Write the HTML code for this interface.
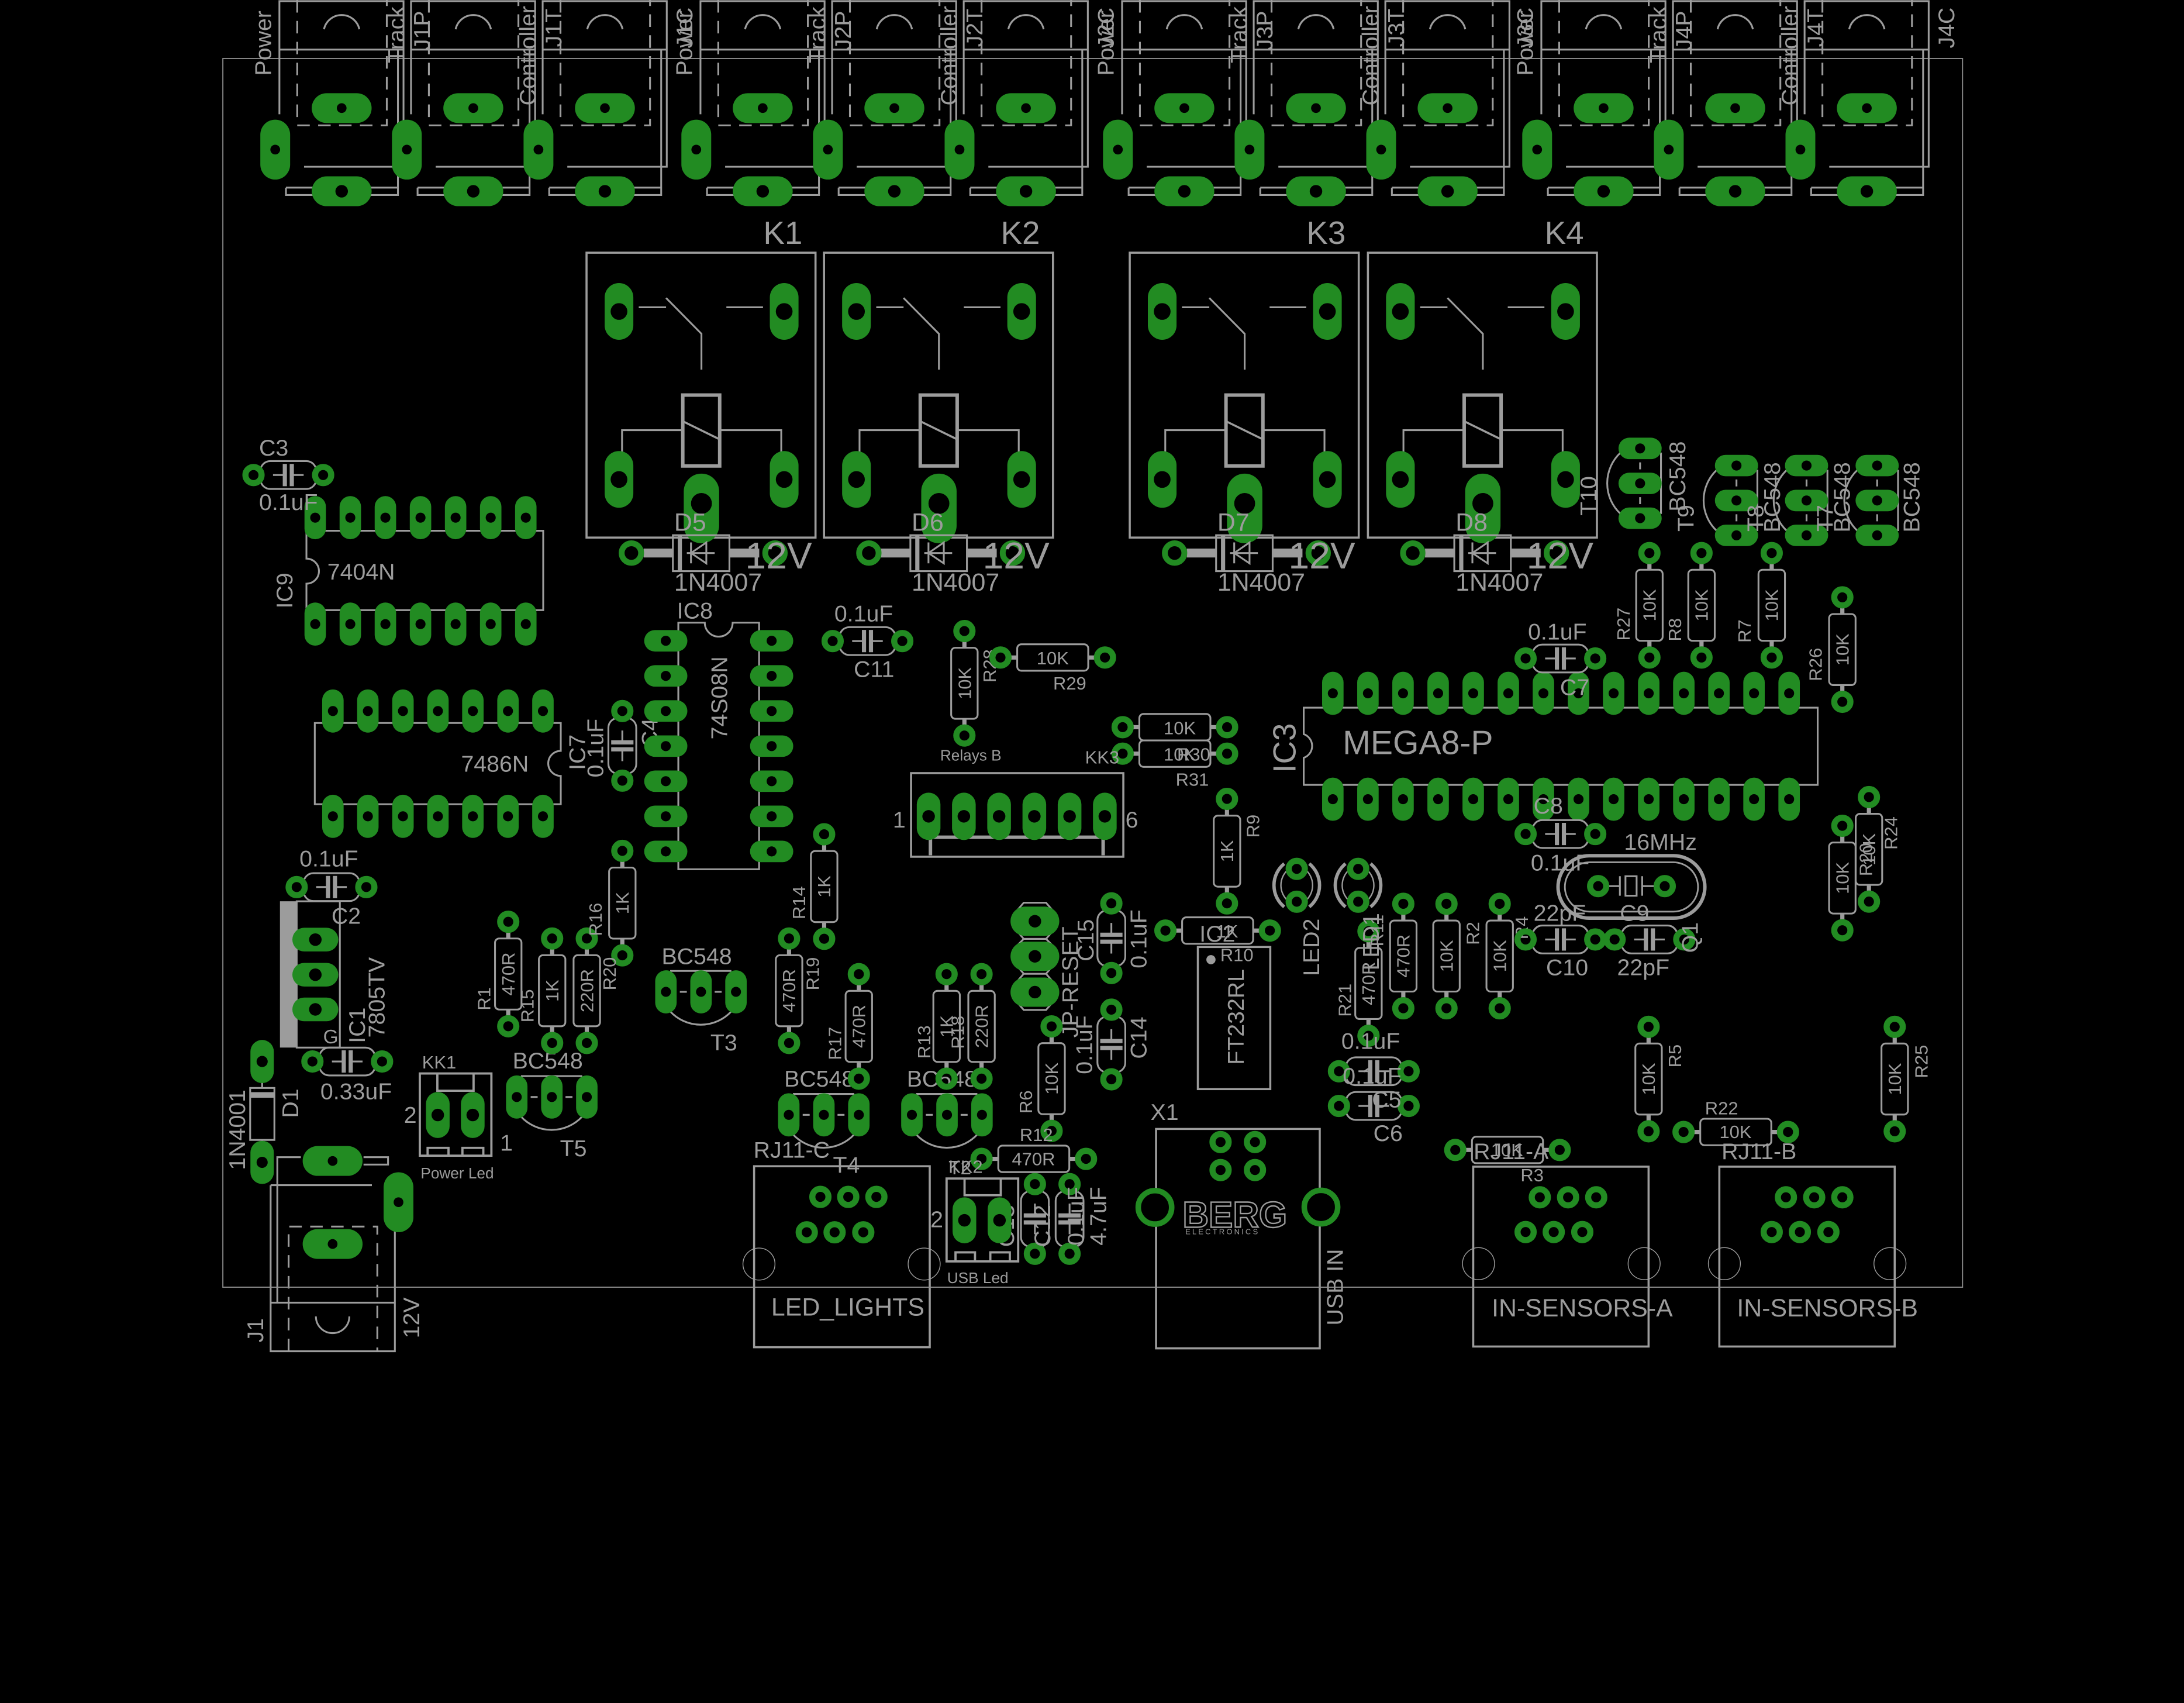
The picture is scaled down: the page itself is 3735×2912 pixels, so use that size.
<!DOCTYPE html>
<html><head><meta charset="utf-8"><style>
html,body{margin:0;padding:0;background:#000;}
svg{display:block;}
text{font-family:"Liberation Sans",sans-serif;fill:#9c9c9c;}
</style></head><body>
<svg width="3735" height="2912" viewBox="0 0 1568 1222.5" preserveAspectRatio="none" xmlns="http://www.w3.org/2000/svg" xmlns:xlink="http://www.w3.org/1999/xlink">
<rect x="0" y="0" width="1568" height="1223" fill="#000"/>
<defs>
<g id="pv"><rect x="-7.7" y="-15.5" width="15.4" height="31" rx="7.7" fill="#228b22"/><circle r="3.6" fill="#000"/></g>
<g id="ph"><rect x="-15.5" y="-7.7" width="31" height="15.4" rx="7.7" fill="#228b22"/><circle r="3.6" fill="#000"/></g>
<g id="ring"><circle r="5.8" fill="none" stroke="#228b22" stroke-width="4.4"/></g>
<g id="rv"><line x1="0" y1="5" x2="0" y2="70" stroke="#9c9c9c" stroke-width="3"/><rect x="-9.5" y="12" width="19" height="51" rx="3" fill="#000" stroke="#9c9c9c" stroke-width="1.3"/><use href="#ring"/><use href="#ring" y="75"/></g>
<g id="rh"><line x1="5" y1="0" x2="70" y2="0" stroke="#9c9c9c" stroke-width="3"/><rect x="12" y="-9.5" width="51" height="19" rx="3" fill="#000" stroke="#9c9c9c" stroke-width="1.3"/><use href="#ring"/><use href="#ring" x="75"/></g>
<g id="ch"><rect x="5" y="-10" width="40" height="20" rx="7" fill="none" stroke="#9c9c9c" stroke-width="1.3"/><path d="M14,0H22.5M27.5,0H36" stroke="#9c9c9c" stroke-width="1.3"/><path d="M22.5,-8V8M27.5,-8V8" stroke="#9c9c9c" stroke-width="3"/><use href="#ring"/><use href="#ring" x="50"/></g>
<g id="cv"><rect x="-10" y="5" width="20" height="40" rx="7" fill="none" stroke="#9c9c9c" stroke-width="1.3"/><path d="M0,14V22.5M0,27.5V36" stroke="#9c9c9c" stroke-width="1.3"/><path d="M-8,22.5H8M-8,27.5H8" stroke="#9c9c9c" stroke-width="3"/><use href="#ring"/><use href="#ring" y="50"/></g>
<g id="trh"><path d="M3,14 A30 30 0 0 0 47,14 M3,-15 H47" fill="none" stroke="#9c9c9c" stroke-width="1.3"/><use href="#pv"/><use href="#pv" x="25.2"/><use href="#pv" x="50.3"/><path d="M10,0H15M35,0H40" stroke="#9c9c9c" stroke-width="1.3"/></g>
<g id="trv"><path d="M-14,3 A30 30 0 0 0 -14,47 M15,3 V47" fill="none" stroke="#9c9c9c" stroke-width="1.3"/><use href="#ph"/><use href="#ph" y="25.1"/><use href="#ph" y="50.1"/><path d="M0,10V15M0,35V40" stroke="#9c9c9c" stroke-width="1.3"/></g>
<g id="conn" fill="none" stroke="#9c9c9c" stroke-width="1.3">
<path d="M-27,119.7H44.4V0.8H-44.7V82"/><path d="M-44.7,35.6H44.4"/>
<path d="M-31.9,0V90H32.4V0" stroke-dasharray="9 6"/>
<path d="M-40,134.7V140H40.4V35.6M-40,134.7H-20M20,134.7H40"/>
<path d="M-12.7,21 A13 13 0 0 1 12.7,21"/>
<rect x="-21.5" y="66.9" width="43" height="21.4" rx="10.7" fill="#228b22" stroke="none"/><circle cx="0" cy="77.6" r="3.5" fill="#000" stroke="none"/>
<rect x="-58.4" y="85.9" width="21.4" height="43" rx="10.7" fill="#228b22" stroke="none"/><circle cx="-47.7" cy="107.4" r="3.5" fill="#000" stroke="none"/>
<rect x="-21.5" y="126.6" width="43" height="21.4" rx="10.7" fill="#228b22" stroke="none"/><circle cx="0" cy="137.3" r="4.5" fill="#000" stroke="none"/>
</g>
<g id="relay">
<rect x="0" y="0" width="164.4" height="204.5" fill="none" stroke="#9c9c9c" stroke-width="1.5"/>
<path d="M37.5,39.2H57.1M57.1,32.5L82.5,58.2V83.9M100.4,39.2H126.7M69.1,127.4H25.5V145M95.6,127.4H139.8V145" fill="none" stroke="#9c9c9c" stroke-width="1.3"/>
<rect x="69.1" y="102.2" width="26.5" height="50.9" fill="none" stroke="#9c9c9c" stroke-width="2.5"/>
<path d="M69.1,121L95.6,134" stroke="#9c9c9c" stroke-width="1.5"/>
<rect x="13" y="21.8" width="20.6" height="40.7" rx="10.3" fill="#228b22"/><circle cx="23.3" cy="42.2" r="6" fill="#000"/>
<rect x="131.6" y="21.8" width="20.6" height="40.7" rx="10.3" fill="#228b22"/><circle cx="141.9" cy="42.2" r="6" fill="#000"/>
<rect x="13" y="142.4" width="20.6" height="40.7" rx="10.3" fill="#228b22"/><circle cx="23.3" cy="162.8" r="6" fill="#000"/>
<rect x="131.6" y="142.4" width="20.6" height="40.7" rx="10.3" fill="#228b22"/><circle cx="141.9" cy="162.8" r="6" fill="#000"/>
<rect x="69.8" y="158.6" width="25.4" height="50" rx="12.7" fill="#228b22"/><circle cx="82.5" cy="180" r="7.5" fill="#000"/>
<path d="M41,215.6H62M102.6,215.6H124" stroke="#9c9c9c" stroke-width="6.4"/>
<rect x="62" y="202.8" width="40.6" height="25.8" fill="none" stroke="#9c9c9c" stroke-width="1.3"/>
<path d="M67,202.8V228.6" stroke="#9c9c9c" stroke-width="3"/>
<path d="M72,215.6H92M75,208V223M75,215.6L86,208V223Z" fill="none" stroke="#9c9c9c" stroke-width="1.3"/>
<circle cx="32.2" cy="215.6" r="7" fill="none" stroke="#228b22" stroke-width="4.2"/>
<circle cx="135.3" cy="215.6" r="7" fill="none" stroke="#228b22" stroke-width="4.2"/>
</g>
</defs>

<!-- board outline -->
<rect x="160" y="42" width="1249" height="882" fill="none" stroke="#8a8a8a" stroke-width="0.8"/>

<!-- top connectors -->
<use href="#conn" x="245.3"/><use href="#conn" x="339.8"/><use href="#conn" x="434.3"/>
<use href="#conn" x="547.6"/><use href="#conn" x="642.1"/><use href="#conn" x="736.6"/>
<use href="#conn" x="850.3"/><use href="#conn" x="944.8"/><use href="#conn" x="1039.3"/>
<use href="#conn" x="1151.3"/><use href="#conn" x="1245.8"/><use href="#conn" x="1340.3"/>
<g font-size="16.5" text-anchor="middle">
<text transform="translate(194.5,31) rotate(-90)">Power</text><text transform="translate(290,25) rotate(-90)">Track</text><text transform="translate(308.5,22) rotate(-90)">J1P</text><text transform="translate(384.5,40) rotate(-90)">Controller</text><text transform="translate(403,20) rotate(-90)">J1T</text>
<text transform="translate(497,20) rotate(-90)">J1C</text>
<text transform="translate(496.8,31) rotate(-90)">Power</text><text transform="translate(592.3,25) rotate(-90)">Track</text><text transform="translate(610.8,22) rotate(-90)">J2P</text><text transform="translate(686.8,40) rotate(-90)">Controller</text><text transform="translate(705.3,20) rotate(-90)">J2T</text>
<text transform="translate(799.5,20) rotate(-90)">J2C</text>
<text transform="translate(799.5,31) rotate(-90)">Power</text><text transform="translate(895,25) rotate(-90)">Track</text><text transform="translate(913.5,22) rotate(-90)">J3P</text><text transform="translate(989.5,40) rotate(-90)">Controller</text><text transform="translate(1008,20) rotate(-90)">J3T</text>
<text transform="translate(1100.5,20) rotate(-90)">J3C</text>
<text transform="translate(1100.5,31) rotate(-90)">Power</text><text transform="translate(1196,25) rotate(-90)">Track</text><text transform="translate(1214.5,22) rotate(-90)">J4P</text><text transform="translate(1290.5,40) rotate(-90)">Controller</text><text transform="translate(1309,20) rotate(-90)">J4T</text>
<text transform="translate(1403,20) rotate(-90)">J4C</text>
</g>

<!-- relays -->
<use href="#relay" x="421.1" y="181.4"/><use href="#relay" x="591.6" y="181.4"/><use href="#relay" x="811.1" y="181.4"/><use href="#relay" x="982.1" y="181.4"/>
<g font-size="23"><text x="548" y="175">K1</text><text x="718.5" y="175">K2</text><text x="938" y="175">K3</text><text x="1109" y="175">K4</text></g>
<g font-size="18"><text x="484" y="381">D5</text><text x="654.5" y="381">D6</text><text x="874" y="381">D7</text><text x="1045" y="381">D8</text>
<text x="484" y="424">1N4007</text><text x="654.5" y="424">1N4007</text><text x="874" y="424">1N4007</text><text x="1045" y="424">1N4007</text></g>
<g font-size="27"><text x="535" y="408">12V</text><text x="705.5" y="408">12V</text><text x="925" y="408">12V</text><text x="1096" y="408">12V</text></g>

<!-- IC9 7404N -->
<path d="M220,381H390V438H220V419A9 9 0 0 0 220,401Z" fill="none" stroke="#9c9c9c" stroke-width="1.3"/>
<use href="#pv" x="226.3" y="371.6"/><use href="#pv" x="251.5" y="371.6"/><use href="#pv" x="276.7" y="371.6"/><use href="#pv" x="301.9" y="371.6"/><use href="#pv" x="327.1" y="371.6"/><use href="#pv" x="352.3" y="371.6"/><use href="#pv" x="377.5" y="371.6"/>
<use href="#pv" x="226.3" y="448"/><use href="#pv" x="251.5" y="448"/><use href="#pv" x="276.7" y="448"/><use href="#pv" x="301.9" y="448"/><use href="#pv" x="327.1" y="448"/><use href="#pv" x="352.3" y="448"/><use href="#pv" x="377.5" y="448"/>
<text x="235" y="416" font-size="16.5">7404N</text>
<text transform="translate(210,424) rotate(-90)" font-size="16.5" text-anchor="middle">IC9</text>

<!-- C3 -->
<use href="#ch" x="182" y="341"/>
<text x="186" y="327" font-size="16.5">C3</text><text x="186" y="366" font-size="16.5">0.1uF</text>

<!-- IC7 7486N -->
<path d="M226,519H402.6V539A9 9 0 0 0 402.6,557V577.3H226Z" fill="none" stroke="#9c9c9c" stroke-width="1.3"/>
<use href="#pv" x="239" y="510.4"/><use href="#pv" x="264.1" y="510.4"/><use href="#pv" x="289.3" y="510.4"/><use href="#pv" x="314.4" y="510.4"/><use href="#pv" x="339.5" y="510.4"/><use href="#pv" x="364.7" y="510.4"/><use href="#pv" x="389.8" y="510.4"/>
<use href="#pv" x="239" y="586"/><use href="#pv" x="264.1" y="586"/><use href="#pv" x="289.3" y="586"/><use href="#pv" x="314.4" y="586"/><use href="#pv" x="339.5" y="586"/><use href="#pv" x="364.7" y="586"/><use href="#pv" x="389.8" y="586"/>
<text x="331" y="554" font-size="16.5">7486N</text>
<text transform="translate(420,540) rotate(-90)" font-size="16.5" text-anchor="middle">IC7</text>
<text transform="translate(433,537) rotate(-90)" font-size="16.5" text-anchor="middle">0.1uF</text>
<use href="#cv" x="446.8" y="510.4"/>
<text transform="translate(472,526) rotate(-90)" font-size="16.5" text-anchor="middle">C4</text>

<!-- IC8 74S08N -->
<path d="M487,447H506A10 10 0 0 0 526,447H545V624H487Z" fill="none" stroke="#9c9c9c" stroke-width="1.3"/>
<use href="#ph" x="478" y="460"/><use href="#ph" x="478" y="485.2"/><use href="#ph" x="478" y="510.4"/><use href="#ph" x="478" y="535.6"/><use href="#ph" x="478" y="560.8"/><use href="#ph" x="478" y="586"/><use href="#ph" x="478" y="611.2"/>
<use href="#ph" x="554" y="460"/><use href="#ph" x="554" y="485.2"/><use href="#ph" x="554" y="510.4"/><use href="#ph" x="554" y="535.6"/><use href="#ph" x="554" y="560.8"/><use href="#ph" x="554" y="586"/><use href="#ph" x="554" y="611.2"/>
<text transform="translate(522,501) rotate(-90)" font-size="16.5" text-anchor="middle">74S08N</text>
<text x="486" y="444" font-size="16.5">IC8</text>

<!-- C11, R28, R29 -->
<use href="#ch" x="597.8" y="460.2"/>
<text x="599" y="446" font-size="16.5">0.1uF</text><text x="613" y="486" font-size="16.5">C11</text>
<use href="#rv" x="692.4" y="453"/>
<text transform="translate(697,490.5) rotate(-90)" font-size="13" text-anchor="middle">10K</text>
<text transform="translate(715,478) rotate(-90)" font-size="13" text-anchor="middle">R28</text>
<use href="#rh" x="718.3" y="472"/>
<text x="755.8" y="477" font-size="13" text-anchor="middle">10K</text>
<text x="768" y="495" font-size="13" text-anchor="middle">R29</text>

<!-- R30 R31 -->
<use href="#rh" x="806" y="522"/><use href="#rh" x="806" y="541"/>
<text x="847" y="527" font-size="13" text-anchor="middle">10K</text>
<text x="847" y="546" font-size="13" text-anchor="middle">10K</text>
<text x="857" y="546" font-size="13" text-anchor="middle">R30</text>
<text x="856" y="564" font-size="13" text-anchor="middle">R31</text>

<!-- KK3 -->
<rect x="654.1" y="555" width="152.4" height="60" fill="none" stroke="#9c9c9c" stroke-width="1.5"/>
<path d="M668,614V601H792V614" fill="none" stroke="#9c9c9c" stroke-width="2.5"/>
<g>
<rect x="658.2" y="569" width="17" height="34" rx="8.5" fill="#228b22"/><rect x="683.5" y="569" width="17" height="34" rx="8.5" fill="#228b22"/><rect x="708.8" y="569" width="17" height="34" rx="8.5" fill="#228b22"/><rect x="734.1" y="569" width="17" height="34" rx="8.5" fill="#228b22"/><rect x="759.4" y="569" width="17" height="34" rx="8.5" fill="#228b22"/><rect x="784.7" y="569" width="17" height="34" rx="8.5" fill="#228b22"/>
<circle cx="666.7" cy="586" r="4.5"/><circle cx="692" cy="586" r="4.5"/><circle cx="717.3" cy="586" r="4.5"/><circle cx="742.6" cy="586" r="4.5"/><circle cx="767.9" cy="586" r="4.5"/><circle cx="793.2" cy="586" r="4.5"/>
</g>
<text x="641" y="594" font-size="16.5">1</text><text x="808" y="594" font-size="16.5">6</text>
<text x="675" y="546" font-size="11">Relays B</text><text x="779" y="548" font-size="13">KK3</text>

<!-- C2, IC1 7805 -->
<use href="#ch" x="213" y="636.8"/>
<text x="215" y="622" font-size="16.5">0.1uF</text><text x="238" y="663" font-size="16.5">C2</text>
<rect x="201" y="647" width="12" height="105" fill="#9c9c9c"/>
<rect x="213" y="647" width="31" height="105" fill="none" stroke="#9c9c9c" stroke-width="1.3"/>
<rect x="209.9" y="666" width="33" height="17" rx="8.5" fill="#228b22"/><circle cx="226.4" cy="674.5" r="4.5"/>
<rect x="209.9" y="691.2" width="33" height="17" rx="8.5" fill="#228b22"/><circle cx="226.4" cy="699.7" r="4.5"/>
<rect x="209.9" y="716.1" width="33" height="17" rx="8.5" fill="#228b22"/><circle cx="226.4" cy="724.6" r="4.5"/>
<text transform="translate(276,716) rotate(-90)" font-size="16.5" text-anchor="middle">7805TV</text>
<text transform="translate(262,736) rotate(-90)" font-size="16.5" text-anchor="middle">IC1</text>
<text x="232" y="749" font-size="14">G</text>
<use href="#ch" x="224.3" y="762"/>
<text x="230" y="789" font-size="16.5">0.33uF</text>

<!-- D1 -->
<line x1="188.2" y1="762" x2="188.2" y2="834" stroke="#9c9c9c" stroke-width="1.3"/>
<rect x="179.6" y="781" width="17.4" height="37.3" fill="#000" stroke="#9c9c9c" stroke-width="1.3"/>
<rect x="179.6" y="784" width="17.4" height="4" fill="#9c9c9c"/>
<rect x="179.8" y="746.5" width="16.8" height="31" rx="8.4" fill="#228b22"/><circle cx="188.2" cy="762" r="4"/>
<rect x="179.8" y="818.9" width="16.8" height="31" rx="8.4" fill="#228b22"/><circle cx="188.2" cy="834.4" r="4"/>
<text transform="translate(176,811) rotate(-90)" font-size="16.5" text-anchor="middle">1N4001</text>
<text transform="translate(214,792) rotate(-90)" font-size="16.5" text-anchor="middle">D1</text>

<!-- J1 power jack -->
<g fill="none" stroke="#9c9c9c" stroke-width="1.3">
<path d="M194.3,850.8H267M194.3,850.8V970H283.5V879"/>
<path d="M194.3,935.1H283.5"/>
<path d="M207.2,970V880.5H270.9V970" stroke-dasharray="9 6"/>
<path d="M199.1,935.1V830.7H216M261,830.7H278.6V836H261"/>
<path d="M226.8,945 A12 12 0 0 0 250.8,945"/>
</g>
<rect x="217.3" y="822.7" width="43" height="21.4" rx="10.7" fill="#228b22"/><circle cx="238.8" cy="833.4" r="3.5"/>
<rect x="275.4" y="841.5" width="21.4" height="43" rx="10.7" fill="#228b22"/><circle cx="286.1" cy="863" r="3.5"/>
<rect x="217.3" y="882.3" width="43" height="21.4" rx="10.7" fill="#228b22"/><circle cx="238.8" cy="893" r="3.5"/>
<text transform="translate(189,955) rotate(-90)" font-size="16.5" text-anchor="middle">J1</text>
<text transform="translate(301,946) rotate(-90)" font-size="16.5" text-anchor="middle">12V</text>

<!-- KK1 -->
<rect x="301.4" y="770.6" width="51.4" height="59" fill="none" stroke="#9c9c9c" stroke-width="1.6"/>
<path d="M314,770.6V783H340V770.6M307,829.6V824H322V829.6M332,829.6V824H347V829.6" fill="none" stroke="#9c9c9c" stroke-width="1.6"/>
<rect x="305.8" y="783.9" width="17" height="33" rx="8.5" fill="#228b22"/><circle cx="314.3" cy="800.4" r="4.5"/>
<rect x="330.9" y="783.9" width="17" height="33" rx="8.5" fill="#228b22"/><circle cx="339.4" cy="800.4" r="4.5"/>
<text x="303" y="767" font-size="13">KK1</text><text x="290" y="806" font-size="16.5">2</text><text x="359" y="826" font-size="16.5">1</text>
<text x="302" y="846" font-size="11">Power Led</text>

<!-- transistors -->
<use href="#trh" x="371" y="787.5"/><text x="368" y="767" font-size="16.5">BC548</text><text x="402" y="830" font-size="16.5">T5</text>
<use href="#trh" x="478.1" y="712"/><text x="475" y="692" font-size="16.5">BC548</text><text x="510" y="754" font-size="16.5">T3</text>
<use href="#trh" x="566.3" y="800.3"/><text x="563" y="780" font-size="16.5">BC548</text><text x="598" y="842" font-size="16.5">T4</text>
<use href="#trh" x="654.7" y="800.3"/><text x="651" y="780" font-size="16.5">BC548</text><text x="681" y="843" font-size="14">T2</text>

<!-- vertical resistors -->
<use href="#rv" x="364.9" y="661.7"/><use href="#rv" x="396.4" y="673.7"/><use href="#rv" x="421.3" y="673.7"/><use href="#rv" x="446.8" y="610.8"/>
<use href="#rv" x="566.5" y="673.7"/><use href="#rv" x="591.7" y="598.9"/><use href="#rv" x="616.6" y="699.3"/><use href="#rv" x="679.6" y="699.3"/><use href="#rv" x="704.7" y="699.3"/>
<use href="#rv" x="755" y="736.8"/><use href="#rv" x="880.9" y="573.5"/>
<use href="#rv" x="1184.2" y="397"/><use href="#rv" x="1221.6" y="397"/><use href="#rv" x="1272" y="397"/><use href="#rv" x="1322.7" y="428.8"/>
<use href="#rv" x="1341.8" y="572.2"/><use href="#rv" x="1322.7" y="592.8"/>
<use href="#rv" x="982.5" y="668.5"/><use href="#rv" x="1007.5" y="648.8"/><use href="#rv" x="1038.5" y="648.8"/><use href="#rv" x="1076.7" y="648.8"/>
<use href="#rv" x="1183.6" y="737.1"/><use href="#rv" x="1360.3" y="737.1"/>
<g font-size="13" text-anchor="middle">
<text transform="translate(369.4,699.2) rotate(-90)">470R</text><text transform="translate(352,717) rotate(-90)">R1</text>
<text transform="translate(400.9,711.2) rotate(-90)">1K</text><text transform="translate(383,722) rotate(-90)">R15</text>
<text transform="translate(425.8,711.2) rotate(-90)">220R</text><text transform="translate(442,699) rotate(-90)">R20</text>
<text transform="translate(451.3,648.3) rotate(-90)">1K</text><text transform="translate(432,660) rotate(-90)">R16</text>
<text transform="translate(571,711.2) rotate(-90)">470R</text><text transform="translate(588,699) rotate(-90)">R19</text>
<text transform="translate(596.2,636.4) rotate(-90)">1K</text><text transform="translate(578,648) rotate(-90)">R14</text>
<text transform="translate(621.1,736.8) rotate(-90)">470R</text><text transform="translate(604,749) rotate(-90)">R17</text>
<text transform="translate(684.1,736.8) rotate(-90)">1K</text><text transform="translate(668,748) rotate(-90)">R13</text>
<text transform="translate(692,741) rotate(-90)">R18</text>
<text transform="translate(709.2,736.8) rotate(-90)">220R</text>
<text transform="translate(759.5,774.3) rotate(-90)">10K</text><text transform="translate(741,791) rotate(-90)">R6</text>
<text transform="translate(885.4,611) rotate(-90)">1K</text><text transform="translate(904,593) rotate(-90)">R9</text>
<text transform="translate(1188.7,434.5) rotate(-90)">10K</text><text transform="translate(1170,448) rotate(-90)">R27</text>
<text transform="translate(1226.1,434.5) rotate(-90)">10K</text><text transform="translate(1207,452) rotate(-90)">R8</text>
<text transform="translate(1276.5,434.5) rotate(-90)">10K</text><text transform="translate(1257,453) rotate(-90)">R7</text>
<text transform="translate(1327.2,466.3) rotate(-90)">10K</text><text transform="translate(1308,477) rotate(-90)">R26</text>
<text transform="translate(1346.3,609.7) rotate(-90)">10K</text><text transform="translate(1362,598) rotate(-90)">R24</text>
<text transform="translate(1327.2,630.3) rotate(-90)">10K</text><text transform="translate(1344,617) rotate(-90)">R20</text>
<text transform="translate(987,706) rotate(-90)">470R</text><text transform="translate(970,718) rotate(-90)">R21</text>
<text transform="translate(1012,686.3) rotate(-90)">470R</text><text transform="translate(993,668) rotate(-90)">R11</text>
<text transform="translate(1043,686.3) rotate(-90)">10K</text><text transform="translate(1062,670) rotate(-90)">R2</text>
<text transform="translate(1081.2,686.3) rotate(-90)">10K</text><text transform="translate(1097,666) rotate(-90)">R4</text>
<text transform="translate(1188.1,774.6) rotate(-90)">10K</text><text transform="translate(1207,758) rotate(-90)">R5</text>
<text transform="translate(1364.8,774.6) rotate(-90)">10K</text><text transform="translate(1384,762) rotate(-90)">R25</text>
</g>

<!-- horizontal resistors -->
<use href="#rh" x="704.7" y="831.9"/><text x="742" y="836.5" font-size="13" text-anchor="middle">470R</text><text x="744" y="819" font-size="13" text-anchor="middle">R12</text>
<use href="#rh" x="1208.7" y="812.6"/><text x="1246" y="817" font-size="13" text-anchor="middle">10K</text><text x="1236" y="800" font-size="13" text-anchor="middle">R22</text>
<use href="#rh" x="1044.8" y="825.5"/><text x="1082" y="830" font-size="13" text-anchor="middle">10K</text><text x="1100" y="848" font-size="13" text-anchor="middle">R3</text>

<!-- JP-RESET -->
<g fill="none" stroke="#9c9c9c" stroke-width="1.3">
<path d="M735,648H751L757,655V667L751,674H735L729,667V655Z"/>
<path d="M735,674H751L757,680V692L751,699H735L729,692V680Z"/>
<path d="M735,699H751L757,706V718L751,725H735L729,718V706Z"/>
</g>
<rect x="725.5" y="650.8" width="35" height="21" rx="10.5" fill="#228b22"/><circle cx="743" cy="661.3" r="4.5"/>
<rect x="725.5" y="676" width="35" height="21" rx="10.5" fill="#228b22"/><circle cx="743" cy="686.5" r="4.5"/>
<rect x="725.5" y="701.7" width="35" height="21" rx="10.5" fill="#228b22"/><circle cx="743" cy="712.2" r="4.5"/>
<text transform="translate(774,705) rotate(-90)" font-size="16.5" text-anchor="middle">JP-RESET</text>

<!-- C15 C14 C13 C12 -->
<use href="#cv" x="797.9" y="648.5"/><use href="#cv" x="797.9" y="724.8"/>
<text transform="translate(785,675) rotate(-90)" font-size="16.5" text-anchor="middle">C15</text>
<text transform="translate(823,674) rotate(-90)" font-size="16.5" text-anchor="middle">0.1uF</text>
<text transform="translate(823,745) rotate(-90)" font-size="16.5" text-anchor="middle">C14</text>
<text transform="translate(784,750) rotate(-90)" font-size="16.5" text-anchor="middle">0.1uF</text>
<use href="#cv" x="743" y="850"/><use href="#cv" x="767.9" y="850"/>
<text transform="translate(728,880) rotate(-90)" font-size="16.5" text-anchor="middle">C13</text>
<text transform="translate(754,880) rotate(-90)" font-size="16.5" text-anchor="middle">C12</text>
<text transform="translate(778,873) rotate(-90)" font-size="16.5" text-anchor="middle">0.1uF</text>
<text transform="translate(794,873) rotate(-90)" font-size="16.5" text-anchor="middle">4.7uF</text>

<!-- KK2 USB Led -->
<rect x="679.6" y="846" width="51.4" height="59.5" fill="none" stroke="#9c9c9c" stroke-width="1.6"/>
<path d="M692.5,846V858H718.5V846M686,905.5V899H700V905.5M711,905.5V899H725V905.5" fill="none" stroke="#9c9c9c" stroke-width="1.6"/>
<rect x="683.9" y="859.5" width="17" height="33" rx="8.5" fill="#228b22"/><circle cx="692.4" cy="876" r="4.5"/>
<rect x="709.1" y="859.5" width="17" height="33" rx="8.5" fill="#228b22"/><circle cx="717.6" cy="876" r="4.5"/>
<text x="681" y="842" font-size="13">KK2</text><text x="668" y="881" font-size="16.5">2</text>
<text x="680" y="921" font-size="11">USB Led</text>

<!-- RJ11-C LED_LIGHTS -->
<rect x="541.4" y="837.2" width="126.1" height="129.9" fill="none" stroke="#9c9c9c" stroke-width="1.5"/>
<use href="#ring" x="589" y="859.2"/><use href="#ring" x="609" y="859.2"/><use href="#ring" x="629.2" y="859.2"/>
<use href="#ring" x="579.2" y="884.6"/><use href="#ring" x="599.2" y="884.6"/><use href="#ring" x="619.8" y="884.6"/>
<g fill="none" stroke="#9c9c9c" stroke-width="0.6"><circle cx="544.9" cy="907.4" r="11.5"/><circle cx="663.5" cy="907.4" r="11.5"/></g>
<text x="553.7" y="944.3" font-size="18">LED_LIGHTS</text>
<text x="541" y="831" font-size="16.5">RJ11-C</text>

<!-- X1 USB -->
<path d="M830,855V810.4H947.5V853M947.5,880V967.9H830V879" fill="none" stroke="#9c9c9c" stroke-width="1.5"/>
<use href="#ring" x="876.3" y="819.8"/><use href="#ring" x="901" y="819.8"/><use href="#ring" x="876.3" y="839.9"/><use href="#ring" x="901" y="839.9"/>
<circle cx="829.2" cy="866.7" r="12" fill="none" stroke="#228b22" stroke-width="4"/>
<circle cx="948.4" cy="866.5" r="12" fill="none" stroke="#228b22" stroke-width="4"/>
<text x="849" y="881" font-size="26" font-weight="bold" style="fill:none;stroke:#9c9c9c;stroke-width:1">BERG</text>
<text x="851" y="886" font-size="5.5" letter-spacing="1.3">ELECTRONICS</text>
<text x="826" y="804" font-size="16.5">X1</text>
<text transform="translate(964,924) rotate(-90)" font-size="16.5" text-anchor="middle">USB IN</text>

<!-- FT232RL -->
<rect x="860" y="679.8" width="52" height="102" fill="none" stroke="#9c9c9c" stroke-width="1.5"/>
<circle cx="869.4" cy="688.9" r="3.3" fill="#9c9c9c"/>
<text transform="translate(893,730) rotate(-90)" font-size="16.5" text-anchor="middle">FT232RL</text>
<use href="#rh" x="836.7" y="668"/>
<text x="874" y="676" font-size="16.5" text-anchor="middle">IC2</text><text x="881" y="673" font-size="13" text-anchor="middle">1K</text>
<text x="888" y="690" font-size="13" text-anchor="middle">R10</text>

<!-- IC3 MEGA8-P -->
<path d="M936,508H1305V563.4H936V544A9 9 0 0 0 936,527Z" fill="none" stroke="#9c9c9c" stroke-width="1.3"/>
<g>
<use href="#pv" x="956.9" y="497.7"/><use href="#pv" x="982.1" y="497.7"/><use href="#pv" x="1007.3" y="497.7"/><use href="#pv" x="1032.5" y="497.7"/><use href="#pv" x="1057.7" y="497.7"/><use href="#pv" x="1082.9" y="497.7"/><use href="#pv" x="1108.1" y="497.7"/><use href="#pv" x="1133.3" y="497.7"/><use href="#pv" x="1158.5" y="497.7"/><use href="#pv" x="1183.7" y="497.7"/><use href="#pv" x="1208.9" y="497.7"/><use href="#pv" x="1234.1" y="497.7"/><use href="#pv" x="1259.3" y="497.7"/><use href="#pv" x="1284.5" y="497.7"/>
<use href="#pv" x="956.9" y="573.7"/><use href="#pv" x="982.1" y="573.7"/><use href="#pv" x="1007.3" y="573.7"/><use href="#pv" x="1032.5" y="573.7"/><use href="#pv" x="1057.7" y="573.7"/><use href="#pv" x="1082.9" y="573.7"/><use href="#pv" x="1108.1" y="573.7"/><use href="#pv" x="1133.3" y="573.7"/><use href="#pv" x="1158.5" y="573.7"/><use href="#pv" x="1183.7" y="573.7"/><use href="#pv" x="1208.9" y="573.7"/><use href="#pv" x="1234.1" y="573.7"/><use href="#pv" x="1259.3" y="573.7"/><use href="#pv" x="1284.5" y="573.7"/>
</g>
<text x="964" y="541.3" font-size="24">MEGA8-P</text>
<text transform="translate(930,537) rotate(-90)" font-size="23" text-anchor="middle">IC3</text>

<!-- C7 C8 crystal C9 C10 -->
<use href="#ch" x="1095.3" y="472.7"/><text x="1097" y="459" font-size="16.5">0.1uF</text><text x="1120" y="499" font-size="16.5">C7</text>
<use href="#ch" x="1095.3" y="598.7"/><text x="1101" y="584" font-size="16.5">C8</text><text x="1099" y="625" font-size="16.5">0.1uF</text>
<rect x="1118.6" y="614.3" width="105.4" height="44.8" rx="22.4" fill="none" stroke="#9c9c9c" stroke-width="2.5"/>
<rect x="1123.5" y="619" width="95.6" height="35.4" rx="17.7" fill="none" stroke="#9c9c9c" stroke-width="1.2"/>
<path d="M1153,636.1H1163M1163,629V643M1179,629V643M1179,636.1H1190" stroke="#9c9c9c" stroke-width="1.3" fill="none"/>
<rect x="1167" y="629" width="8" height="14" fill="none" stroke="#9c9c9c" stroke-width="1.3"/>
<use href="#ring" x="1147.4" y="636.1"/><use href="#ring" x="1195.2" y="636.1"/>
<text x="1166" y="610" font-size="16.5">16MHz</text>
<use href="#ch" x="1095.3" y="674.4"/><use href="#ch" x="1159.2" y="674.4"/>
<text x="1101" y="661" font-size="16.5">22pF</text><text x="1163" y="661" font-size="16.5">C9</text>
<text x="1110" y="700" font-size="16.5">C10</text><text x="1161" y="700" font-size="16.5">22pF</text>
<text transform="translate(1219,673) rotate(-90)" font-size="16.5" text-anchor="middle">Q1</text>

<!-- vertical transistors -->
<use href="#trv" x="1177.5" y="321.9"/><use href="#trv" x="1246.7" y="334.2"/><use href="#trv" x="1297" y="334.2"/><use href="#trv" x="1347.7" y="334.2"/>
<g font-size="16.5" text-anchor="middle">
<text transform="translate(1210,342) rotate(-90)">BC548</text><text transform="translate(1146,356) rotate(-90)">T10</text>
<text transform="translate(1278,357) rotate(-90)">BC548</text><text transform="translate(1216,372) rotate(-90)">T9</text>
<text transform="translate(1328,357) rotate(-90)">BC548</text><text transform="translate(1266,372) rotate(-90)">T8</text>
<text transform="translate(1378,357) rotate(-90)">BC548</text><text transform="translate(1316,372) rotate(-90)">T7</text>
</g>

<!-- LEDs -->
<g fill="none" stroke="#9c9c9c">
<path d="M922,620 A20 20 0 0 0 922,651 M940,620 A20 20 0 0 1 940,651" stroke-width="2.4"/>
<path d="M925,624 A15 15 0 0 0 925,647 M937,624 A15 15 0 0 1 937,647" stroke-width="1"/>
<path d="M966,620 A20 20 0 0 0 966,651 M984,620 A20 20 0 0 1 984,651" stroke-width="2.4"/>
<path d="M969,624 A15 15 0 0 0 969,647 M981,624 A15 15 0 0 1 981,647" stroke-width="1"/>
</g>
<use href="#ring" x="931" y="623.7"/><use href="#ring" x="931" y="647.3"/><use href="#ring" x="975.1" y="623.7"/><use href="#ring" x="975.1" y="647.3"/>
<text transform="translate(947,680) rotate(-90)" font-size="16.5" text-anchor="middle">LED2</text>
<text transform="translate(990,676) rotate(-90)" font-size="16.5" text-anchor="middle">LED1</text>

<!-- C5 C6 -->
<use href="#ch" x="961.3" y="769"/><use href="#ch" x="961.3" y="793.9"/>
<text x="963" y="753" font-size="16.5">0.1uF</text><text x="964" y="778" font-size="16.5">0.1uF</text>
<text x="985" y="795" font-size="16.5">C5</text><text x="986" y="819" font-size="16.5">C6</text>

<!-- IN-SENSORS -->
<rect x="1057.7" y="837.5" width="125.9" height="129.1" fill="none" stroke="#9c9c9c" stroke-width="1.5"/>
<rect x="1234.4" y="837.5" width="125.9" height="129.1" fill="none" stroke="#9c9c9c" stroke-width="1.5"/>
<use href="#ring" x="1105.5" y="859.5"/><use href="#ring" x="1125.8" y="859.5"/><use href="#ring" x="1146" y="859.5"/>
<use href="#ring" x="1095.3" y="884.4"/><use href="#ring" x="1115.5" y="884.4"/><use href="#ring" x="1136" y="884.4"/>
<use href="#ring" x="1282.2" y="859.5"/><use href="#ring" x="1302.5" y="859.5"/><use href="#ring" x="1322.7" y="859.5"/>
<use href="#ring" x="1272" y="884.4"/><use href="#ring" x="1292.2" y="884.4"/><use href="#ring" x="1312.7" y="884.4"/>
<g fill="none" stroke="#9c9c9c" stroke-width="0.6"><circle cx="1061.5" cy="907.1" r="11.5"/><circle cx="1180.4" cy="907.1" r="11.5"/><circle cx="1238" cy="907.1" r="11.5"/><circle cx="1356.9" cy="907.1" r="11.5"/></g>
<text x="1071" y="945" font-size="18">IN-SENSORS-A</text><text x="1247" y="945" font-size="18">IN-SENSORS-B</text>
<text x="1058" y="832" font-size="16.5">RJ11-A</text><text x="1236" y="832" font-size="16.5">RJ11-B</text>

<!-- board bottom line -->
<line x1="160" y1="924" x2="1409" y2="924" stroke="#8a8a8a" stroke-width="0.6"/>
</svg>
</body></html>
